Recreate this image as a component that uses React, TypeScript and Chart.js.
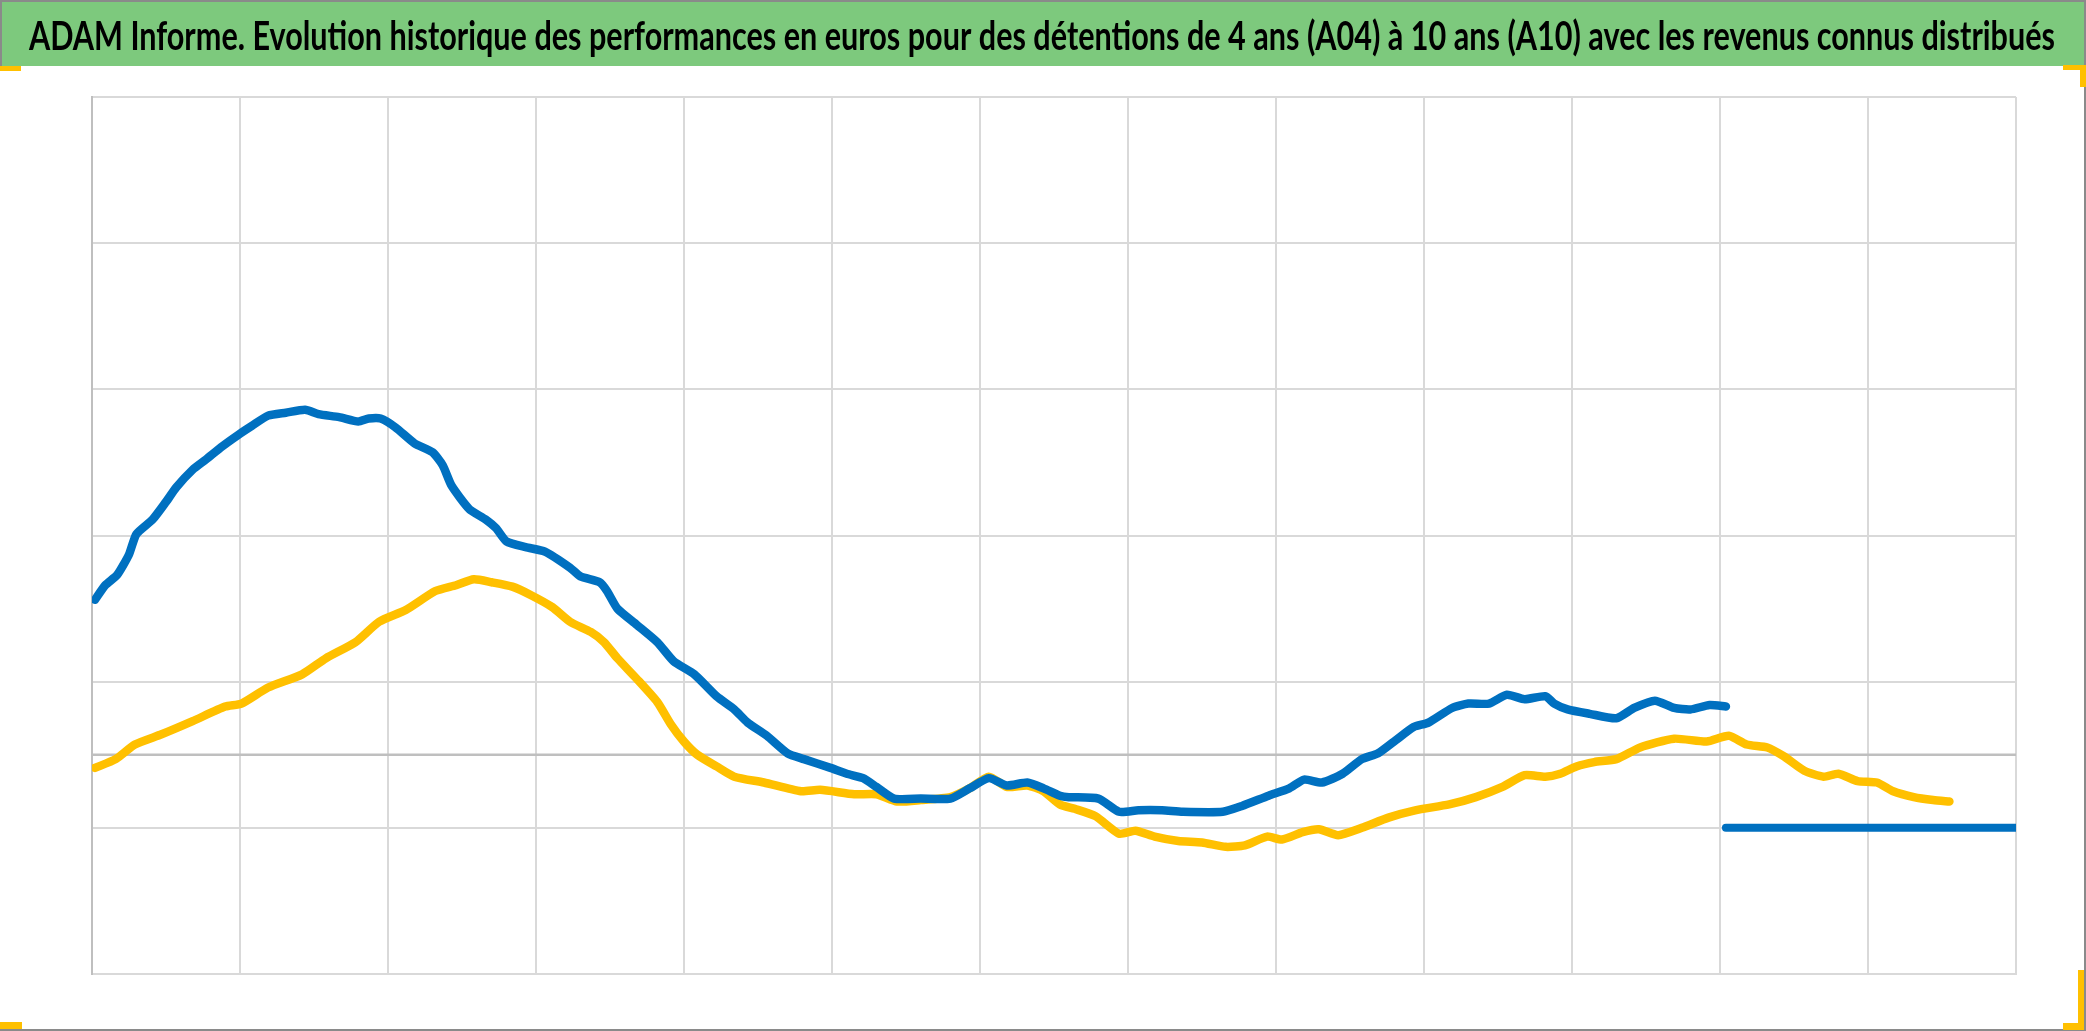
import { useEffect, useRef } from "react";
import { Chart, registerables } from "chart.js";

Chart.register(...registerables);

const TITLE =
  "ADAM Informe. Evolution historique des performances en euros pour des détentions de 4 ans (A04) à 10 ans (A10) avec les revenus connus distribués";

// x: position in grid intervals (13 vertical gridline intervals), y: performance value
const a04X = [
  0.02, 0.09, 0.17, 0.25, 0.3, 0.41, 0.5, 0.57, 0.68, 0.77, 0.88, 0.99, 1.08, 1.19, 1.31, 1.44, 1.53,
  1.67, 1.8, 1.87, 1.95, 2.05, 2.18, 2.3, 2.37, 2.43, 2.55, 2.66, 2.73, 2.8, 2.93, 3.06, 3.23, 3.3,
  3.43, 3.48, 3.55, 3.68, 3.82, 3.93, 4.07, 4.22, 4.34, 4.43, 4.56, 4.7, 4.81, 4.99, 5.1, 5.21, 5.3,
  5.42, 5.6, 5.8, 5.93, 6.06, 6.18, 6.32, 6.43, 6.54, 6.6, 6.8, 6.94, 7.07, 7.23, 7.37, 7.64, 7.77,
  7.95, 8.09, 8.19, 8.31, 8.45, 8.58, 8.69, 8.81, 8.93, 9.03, 9.19, 9.3, 9.44, 9.56, 9.68, 9.82, 9.88,
  9.97, 10.12, 10.3, 10.42, 10.56, 10.69, 10.8, 10.93, 11.04,
];
const a04Y = [
  10.6, 11.6, 12.3, 13.7, 15.1, 16.1, 17.3, 18.3, 19.5, 20.2, 21.1, 21.9, 22.5, 23.2, 23.4, 23.6, 23.3,
  23.1, 22.8, 23.0, 23.0, 22.4, 21.3, 20.7, 19.8, 18.4, 16.8, 16.1, 15.5, 14.6, 14.2, 13.9, 12.8, 12.2,
  11.8, 11.2, 10.0, 8.9, 7.7, 6.4, 5.5, 4.0, 3.1, 2.2, 1.3, 0.1, -0.3, -0.9, -1.3, -1.6, -2.2,
  -3.0, -3.0, -3.0, -2.3, -1.6, -2.1, -1.9, -2.3, -2.8, -2.9, -3.0, -3.9, -3.8, -3.8, -3.9, -3.9, -3.5,
  -2.8, -2.3, -1.7, -1.9, -1.3, -0.3, 0.1, 1.0, 1.9, 2.2, 3.2, 3.5, 3.5, 4.1, 3.8, 4.0, 3.5,
  3.1, 2.8, 2.5, 3.2, 3.7, 3.2, 3.1, 3.4, 3.3,
];

// A04 values with no 4-year history yet (constant level)
const a04FlatX = [11.04, 13.0];
const a04FlatY = [-5.0, -5.0];

const a10X = [
  0.02, 0.16, 0.29, 0.47, 0.68, 0.9, 1.01, 1.19, 1.42, 1.58, 1.78, 1.94, 2.12, 2.32, 2.46, 2.58, 2.7,
  2.84, 2.97, 3.11, 3.23, 3.37, 3.46, 3.55, 3.68, 3.82, 3.91, 4.0, 4.09, 4.22, 4.34, 4.54, 4.79, 4.92,
  5.15, 5.3, 5.44, 5.6, 5.8, 5.93, 6.06, 6.18, 6.32, 6.43, 6.54, 6.64, 6.78, 6.94, 7.05, 7.18, 7.34,
  7.5, 7.66, 7.79, 7.94, 8.04, 8.18, 8.29, 8.42, 8.58, 8.76, 8.94, 9.17, 9.35, 9.53, 9.68, 9.82, 9.92,
  10.03, 10.15, 10.3, 10.46, 10.69, 10.91, 11.06, 11.18, 11.32, 11.43, 11.57, 11.7, 11.8, 11.93, 12.06,
  12.17, 12.31, 12.44, 12.55,
];
const a10Y = [
  -0.9, -0.3, 0.7, 1.4, 2.3, 3.3, 3.5, 4.6, 5.5, 6.6, 7.7, 9.1, 9.9, 11.2, 11.6, 12.0, 11.8,
  11.5, 10.9, 10.1, 9.1, 8.4, 7.7, 6.6, 5.2, 3.6, 2.1, 0.9, 0.0, -0.8, -1.5, -1.9, -2.5, -2.4,
  -2.7, -2.7, -3.2, -3.1, -2.9, -2.3, -1.5, -2.2, -2.1, -2.5, -3.4, -3.7, -4.2, -5.4, -5.2, -5.6, -5.9,
  -6.0, -6.3, -6.2, -5.6, -5.8, -5.3, -5.1, -5.5, -5.0, -4.3, -3.8, -3.4, -2.9, -2.2, -1.4, -1.5, -1.3,
  -0.8, -0.5, -0.3, 0.5, 1.1, 0.9, 1.3, 0.7, 0.5, -0.1, -1.1, -1.5, -1.3, -1.8, -1.9,
  -2.5, -2.9, -3.1, -3.2,
];

const X_MIN = 0;
const X_MAX = 13;
const Y_MIN = -15;
const Y_MAX = 45;
const Y_STEP = 10;

const BLUE = "#0070C0";
const YELLOW = "#FFC000";

const toPoints = (xs: number[], ys: number[]) => xs.map((x, i) => ({ x, y: ys[i] }));

const decorPlugin = {
  id: "decor",
  beforeDraw(chart: any) {
    const { ctx, width, height } = chart;
    ctx.save();
    ctx.fillStyle = "#ffffff";
    ctx.fillRect(0, 0, width, height);
    // title band
    ctx.fillStyle = "#7DC97D";
    ctx.fillRect(0, 0, width, 66);
    ctx.fillStyle = "#000000";
    ctx.font = "bold 40px Lato, 'Liberation Sans', Arial, sans-serif";
    ctx.textAlign = "center";
    ctx.textBaseline = "alphabetic";
    ctx.fillText(TITLE, 1042, 50, 2026);
    ctx.restore();
  },
  beforeDatasetsDraw(chart: any) {
    const { ctx, chartArea, scales } = chart;
    const y0 = scales.y.getPixelForValue(0);
    ctx.save();
    ctx.strokeStyle = "#BFBFBF";
    ctx.lineWidth = 2.5;
    ctx.beginPath();
    ctx.moveTo(chartArea.left, y0);
    ctx.lineTo(chartArea.right, y0);
    ctx.stroke();
    ctx.restore();
  },
  afterDraw(chart: any) {
    const { ctx, width, height } = chart;
    ctx.save();
    // outer border
    ctx.strokeStyle = "#8A8A8A";
    ctx.lineWidth = 2;
    ctx.beginPath();
    ctx.moveTo(0, 1);
    ctx.lineTo(width - 1, 1);
    ctx.lineTo(width - 1, height - 1);
    ctx.lineTo(0, height - 1);
    ctx.moveTo(1, 0);
    ctx.lineTo(1, 66);
    ctx.stroke();
    // yellow selection corners
    ctx.fillStyle = YELLOW;
    ctx.fillRect(0, 66, 21, 5);
    ctx.fillRect(2063, 65, 23, 5);
    ctx.fillRect(2080, 65, 6, 22);
    ctx.fillRect(0, 1022, 22, 7);
    ctx.fillRect(2063, 1023, 21, 7);
    ctx.fillRect(2078, 970, 6, 60);
    ctx.restore();
  },
};

export default function App() {
  const canvasRef = useRef<HTMLCanvasElement | null>(null);

  useEffect(() => {
    document.body.style.margin = "0";
    const canvas = canvasRef.current;
    if (!canvas) return;
    const chart = new Chart(canvas, {
      type: "line",
      data: {
        datasets: [
          {
            label: "A04",
            data: toPoints(a04X, a04Y),
            borderColor: BLUE,
            backgroundColor: BLUE,
            borderWidth: 8.5,
            pointRadius: 0,
            tension: 0.2,
            borderCapStyle: "round",
            borderJoinStyle: "round",
          },
          {
            label: "A04 (sans historique)",
            data: toPoints(a04FlatX, a04FlatY),
            borderColor: BLUE,
            backgroundColor: BLUE,
            borderWidth: 8,
            pointRadius: 0,
            borderCapStyle: "round",
          },
          {
            label: "A10",
            data: toPoints(a10X, a10Y),
            borderColor: YELLOW,
            backgroundColor: YELLOW,
            borderWidth: 8.5,
            pointRadius: 0,
            tension: 0.2,
            borderCapStyle: "round",
            borderJoinStyle: "round",
          },
        ],
      },
      options: {
        responsive: false,
        animation: false,
        devicePixelRatio: 1,
        layout: { padding: { left: 92, top: 97, right: 70, bottom: 57 } },
        plugins: {
          legend: { display: false },
          tooltip: { enabled: false },
          title: { display: false },
        },
        scales: {
          x: {
            type: "linear",
            min: X_MIN,
            max: X_MAX,
            ticks: { display: false, stepSize: 1 },
            grid: { color: "#D9D9D9", lineWidth: 2, drawTicks: false },
            border: { display: true, color: "#D9D9D9", width: 2 },
          },
          y: {
            type: "linear",
            min: Y_MIN,
            max: Y_MAX,
            ticks: { display: false, stepSize: Y_STEP },
            grid: { color: "#D9D9D9", lineWidth: 2, drawTicks: false },
            border: { display: true, color: "#BFBFBF", width: 2 },
          },
        },
      },
      plugins: [decorPlugin],
    });
    return () => chart.destroy();
  }, []);

  return (
    <div style={{ width: 2086, height: 1031 }}>
      <canvas ref={canvasRef} width={2086} height={1031} style={{ display: "block" }} />
    </div>
  );
}
